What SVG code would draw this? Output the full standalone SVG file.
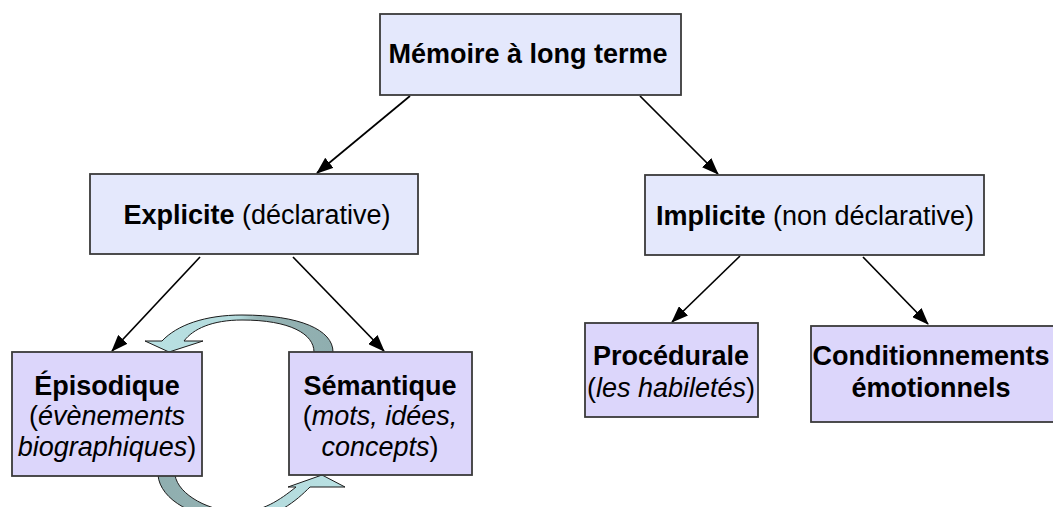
<svg xmlns="http://www.w3.org/2000/svg" width="1053" height="507" viewBox="0 0 1053 507">
<style>
text{font-family:"Liberation Sans",Arial,sans-serif;font-size:27px;fill:#000;text-anchor:middle}
.b{font-weight:bold}
.i{font-style:italic}
.top{fill:#E4E8FC;stroke:#3a3a3a;stroke-width:1.8}
.low{fill:#DCD6FB;stroke:#3a3a3a;stroke-width:1.8}
.c{stroke:#000;stroke-width:1.7;fill:none;marker-end:url(#ah)}
.ca{stroke:#1a1a1a;stroke-width:1}
</style>
<defs>
<marker id="ah" markerUnits="userSpaceOnUse" markerWidth="17" markerHeight="13" refX="16" refY="6.5" orient="auto">
<path d="M0,0 L17,6.5 L0,13 z" fill="#000"/>
</marker>
<linearGradient id="gTop" gradientUnits="userSpaceOnUse" x1="145" y1="0" x2="333" y2="0">
<stop offset="0" stop-color="#B9E1E3"/>
<stop offset="0.5" stop-color="#B3DADC"/>
<stop offset="0.6" stop-color="#95B3B4"/>
<stop offset="1" stop-color="#8FAEAF"/>
</linearGradient>
<linearGradient id="gBot" gradientUnits="userSpaceOnUse" x1="158" y1="0" x2="345" y2="0">
<stop offset="0" stop-color="#8FAEAF"/>
<stop offset="0.42" stop-color="#95B3B4"/>
<stop offset="0.52" stop-color="#B3DADC"/>
<stop offset="1" stop-color="#B9E1E3"/>
</linearGradient>
</defs>
<g id="connectors">
<line class="c" x1="410" y1="96" x2="317" y2="173"/>
<line class="c" x1="640" y1="96" x2="718" y2="174"/>
<line class="c" x1="200" y1="257" x2="112" y2="351"/>
<line class="c" x1="293" y1="257" x2="384" y2="351"/>
<line class="c" x1="740" y1="256" x2="672" y2="322"/>
<line class="c" x1="863" y1="257" x2="928" y2="324"/>
<path class="ca" fill="url(#gTop)" d="M314,352 C314,334 290,320 242,320 C212,320 193,329 184,341 L203,341 L169,352 L145,341 L162,341 C177,325 205,315 242,315 C300,315 333,330 333,352 Z"/>
<path class="ca" fill="url(#gBot)" d="M158,475 C160,500 195,520 240,520 C275,520 297,500 310,487 L345,487 L322,475 L288,487 L296,487 C280,500 262,512 240,512 C210,512 178,495 175,475 Z"/>
</g>
<g id="n-memoire">
<rect class="top" x="380" y="14" width="301" height="81"/>
<text class="b" x="528" y="63">Mémoire à long terme</text>
</g>
<g id="n-explicite">
<rect class="top" x="90" y="174" width="328" height="80"/>
<text x="257" y="224"><tspan class="b">Explicite</tspan> (déclarative)</text>
</g>
<g id="n-implicite">
<rect class="top" x="645" y="175" width="339" height="80"/>
<text x="815" y="225"><tspan class="b">Implicite</tspan> (non déclarative)</text>
</g>
<g id="n-episodique">
<rect class="low" x="12" y="352" width="190" height="124"/>
<text class="b" x="107" y="395">Épisodique</text>
<text x="107" y="425">(<tspan class="i">évènements</tspan></text>
<text x="107" y="456"><tspan class="i">biographiques</tspan>)</text>
</g>
<g id="n-semantique">
<rect class="low" x="289" y="352" width="183" height="123"/>
<text class="b" x="380" y="395">Sémantique</text>
<text x="380" y="425">(<tspan class="i">mots, idées,</tspan></text>
<text x="380" y="456"><tspan class="i">concepts</tspan>)</text>
</g>
<g id="n-procedurale">
<rect class="low" x="585" y="323" width="173" height="94"/>
<text class="b" x="671" y="365">Procédurale</text>
<text x="671" y="397">(<tspan class="i">les habiletés</tspan>)</text>
</g>
<g id="n-conditionnements">
<rect class="low" x="811" y="326" width="248" height="96"/>
<text class="b" x="931" y="365">Conditionnements</text>
<text class="b" x="931" y="397">émotionnels</text>
</g>
</svg>
